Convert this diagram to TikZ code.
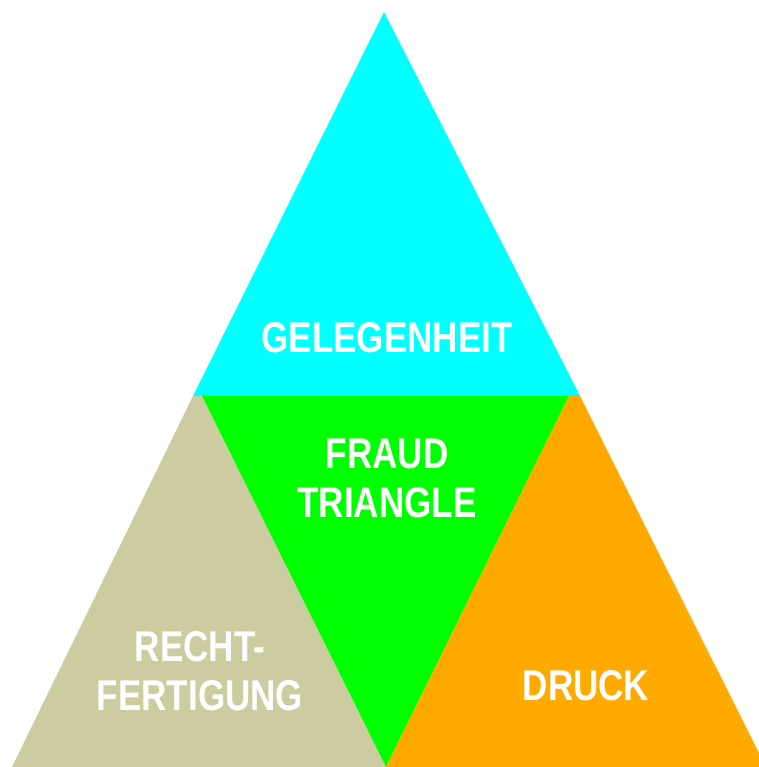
\documentclass[tikz,border=0pt]{standalone}
\usepackage{fontspec}
\newfontfamily\tagfont{Liberation Sans}[FakeStretch=0.815]
\usetikzlibrary{positioning}

\definecolor{chance}{HTML}{00FFFF}
\definecolor{fraud}{HTML}{00FF00}
\definecolor{excuse}{HTML}{CCCCA0}
\definecolor{press}{HTML}{FFAA00}

\begin{document}
\begin{tikzpicture}[
    x=1pt, y=-1pt,
    tag/.style={text=white, inner sep=0pt, align=center, font=\tagfont\bfseries\fontsize{43}{49}\selectfont}
]
    \useasboundingbox (0,0) rectangle (758,767);

    % Corners
    \coordinate (apex) at (384,12);
    \coordinate (midL) at (193,396);
    \coordinate (midLi) at (202,396);
    \coordinate (midRi) at (569,396);
    \coordinate (midR) at (580,396);
    \coordinate (baseL) at (12,767);
    \coordinate (baseM) at (386,767);
    \coordinate (baseR) at (766,767);

    % Pieces
    \fill[chance] (apex) -- (midL) -- (midR) -- cycle;
    \fill[excuse] (midL) -- (midLi) -- (baseM) -- (baseL) -- cycle;
    \fill[fraud] (midLi) -- (midRi) -- (baseM) -- cycle;
    \fill[press] (midRi) -- (midR) -- (baseR) -- (baseM) -- cycle;

    % Labels
    \node[tag] (gelegenheit) at (387,338) {GELEGENHEIT};
    \node[tag] (triangle) at (387,478) {FRAUD\\TRIANGLE};
    \node[tag] (recht) at (200,671) {RECHT-\\FERTIGUNG};
    \node[tag] (druck) at (586,686) {DRUCK};
\end{tikzpicture}
\end{document}
